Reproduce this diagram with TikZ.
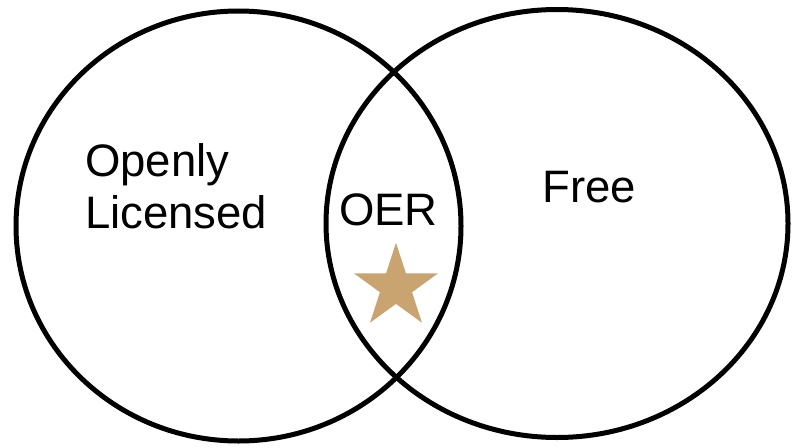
\documentclass[tikz,border=0pt]{standalone}
\usepackage{fontspec}
\setmainfont{Liberation Sans}
\usetikzlibrary{shapes.geometric}
\definecolor{startan}{RGB}{201,163,112}
\tikzset{
	setring/.style={line width=5pt},
	lbl/.style={inner sep=0pt, font=\fontsize{45.5}{52}\selectfont},
}
\begin{document}
\begin{tikzpicture}[x=1pt,y=-1pt]
	\useasboundingbox (0,0) rectangle (794,447);

	\draw[setring](238.5,226) ellipse [x radius=222.5pt, y radius=215pt];
	\draw[setring](557,223.5) ellipse [x radius=231pt, y radius=214pt];

	\node[lbl, anchor=north west, align=left] (open) at (85,143) {Openly\\Licensed};
	\node[lbl, anchor=base west] (oer) at (339,225) {OER};
	\node[lbl, anchor=base west] (free) at (542,202) {Free};

	\node[star, star points=5, star point ratio=2.618, fill=startan, draw=none,
		minimum size=88.4pt, inner sep=0pt] (mark) at (396,287) {};
\end{tikzpicture}
\end{document}
